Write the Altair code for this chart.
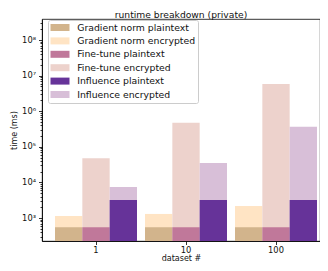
import altair as alt
import pandas as pd

datasets = ["1", "10", "100"]
methods = ["Gradient norm", "Fine-tune", "Influence"]
grad_plain = [550, 550, 550]
grad_enc = [1140, 1300, 2170]
ft_plain = [550, 550, 550]
ft_enc = [47500, 475000, 5800000]
inf_plain = [3200, 3200, 3200]
inf_enc = [7400, 35000, 367000]

series_order = [
    "Gradient norm plaintext", "Gradient norm encrypted",
    "Fine-tune plaintext", "Fine-tune encrypted",
    "Influence plaintext", "Influence encrypted",
]
series_colors = ["#d2b48c", "#ffe4c4", "#c0789a", "#edd2cc", "#663399", "#d8bfd8"]

rows = []
for method, plain, enc in [("Gradient norm", grad_plain, grad_enc),
                           ("Fine-tune", ft_plain, ft_enc),
                           ("Influence", inf_plain, inf_enc)]:
    for d, p, e in zip(datasets, plain, enc):
        rows.append({"dataset": d, "method": method, "kind": "plaintext",
                     "series": f"{method} plaintext", "time": p})
        rows.append({"dataset": d, "method": method, "kind": "encrypted",
                     "series": f"{method} encrypted", "time": e})
df = pd.DataFrame(rows)

y_domain = [226, 3.89e8]
tick_vals = []
for k in range(2, 9):
    for m in range(1, 10):
        v = m * 10 ** k
        if y_domain[0] <= v <= y_domain[1]:
            tick_vals.append(v)

is_major = "abs(log(datum.value)/LN10 - round(log(datum.value)/LN10)) < 0.001"
sup = "['⁰','¹','²','³','⁴','⁵','⁶','⁷','⁸','⁹'][round(log(datum.value)/LN10)]"

x_enc = alt.X("dataset:N", sort=datasets,
              scale=alt.Scale(paddingInner=0.0889, paddingOuter=0.0889, align=0.8125),
              axis=alt.Axis(title="dataset #", labelAngle=0, tickSize=3.5,
                            labelPadding=1, titlePadding=1))
xoff = alt.XOffset("method:N", sort=methods,
                   scale=alt.Scale(paddingInner=0, paddingOuter=0))
y_enc = alt.Y("time:Q", stack=None,
              scale=alt.Scale(type="log", domain=y_domain, nice=False),
              axis=alt.Axis(title="time (ms)", values=tick_vals,
                            labelExpr=f"({is_major}) ? '10' + {sup} : ''",
                            tickSize={"condition": {"test": is_major, "value": 3.5}, "value": 2},
                            labelPadding=3, titlePadding=3))
color = alt.Color("series:N",
                  scale=alt.Scale(domain=series_order, range=series_colors),
                  legend=alt.Legend(title=None, orient="none", legendX=6, legendY=1,
                                    symbolType="M-1,-0.7H2.8V0.7H-1Z", symbolSize=100,
                                    symbolStrokeWidth=0, symbolOpacity=1,
                                    labelFontSize=9.3, labelOffset=16.7,
                                    rowPadding=2.4, padding=2.5,
                                    strokeColor="#cccccc", fillColor="white",
                                    cornerRadius=2, labelColor="#111"))

base = alt.Chart(df).mark_bar(opacity=1, strokeWidth=0)
enc_layer = base.transform_filter("datum.kind == 'encrypted'").encode(
    x=x_enc, xOffset=xoff, y=y_enc, color=color)
plain_layer = base.transform_filter("datum.kind == 'plaintext'").encode(
    x=x_enc, xOffset=xoff, y=y_enc, color=color)

chart = alt.layer(enc_layer, plain_layer).properties(
    width=278, height=222,
    title=alt.TitleParams("runtime breakdown (private)", fontSize=9.2,
                          fontWeight="normal", font="DejaVu Sans", offset=0,
                          dy=1, color="#111"),
    autosize=alt.AutoSizeParams(type="none"),
    padding={"left": 34, "top": 11, "right": 0, "bottom": 22},
).configure_view(stroke="black", strokeWidth=0.8).configure_axis(
    labelFont="DejaVu Sans", titleFont="DejaVu Sans", labelFontSize=8.3,
    titleFontSize=8, titleFontWeight="normal", labelColor="#111", titleColor="#111",
    domainColor="black", domainWidth=0.8, tickColor="black", tickWidth=0.8,
    grid=False,
).configure_legend(labelFont="DejaVu Sans")

chart.save("out.html", embed_options={"renderer": "svg", "actions": False})
